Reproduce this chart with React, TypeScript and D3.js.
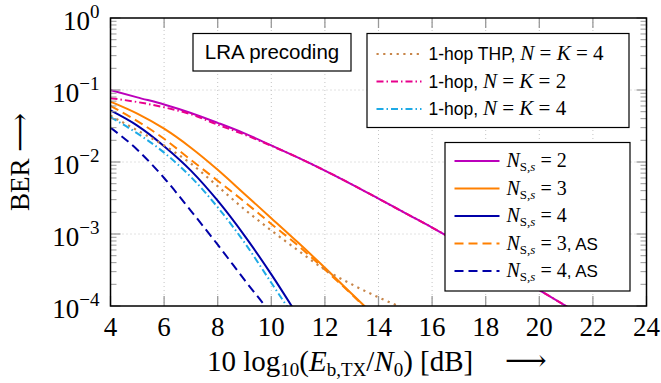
import * as d3 from "d3";
import React from "react";

const W = 661;
const H = 383;
const margin = { top: 18, right: 14.5, bottom: 77, left: 110.5 };
const width = W - margin.left - margin.right;
const height = H - margin.top - margin.bottom;

// Eb/N0 grids [dB]
const snrLong = [4, 5, 6, 7, 8, 9, 10, 11, 12, 13, 14, 15, 16, 17, 18, 19, 20, 21, 22];
const snrMid = [4, 5, 6, 7, 8, 9, 10, 11, 12, 13, 14, 15];
const snrShort = [4, 5, 6, 7, 8, 9, 10, 11];
const snrShort2 = [4, 5, 6, 7, 8, 9, 10, 11, 12, 13, 14];

// BER
const berNs2 = [1.0e-1, 7.9e-2, 6.3e-2, 4.8e-2, 3.5e-2, 2.5e-2, 1.7e-2, 1.15e-2, 7.6e-3, 4.9e-3, 3.1e-3, 1.95e-3, 1.23e-3, 7.6e-4, 4.6e-4, 2.75e-4, 1.66e-4, 1.0e-4, 6.0e-5];
const berNs3 = [6.9e-2, 4.7e-2, 2.9e-2, 1.58e-2, 7.8e-3, 3.6e-3, 1.66e-3, 7.6e-4, 3.4e-4, 1.48e-4, 6.5e-5];
const berNs4 = [5.2e-2, 3.2e-2, 1.66e-2, 7.6e-3, 2.9e-3, 9.5e-4, 2.75e-4, 7.2e-5];
const berNs3AS = [6.0e-2, 3.7e-2, 2.1e-2, 1.07e-2, 5.5e-3, 2.8e-3, 1.38e-3, 6.9e-4, 3.2e-4, 1.45e-4, 6.3e-5];
const berNs4AS = [3.0e-2, 1.48e-2, 6.0e-3, 2.1e-3, 7.1e-4, 2.3e-4, 7.6e-5, 2.0e-5];
const berThp = [4.4e-2, 2.75e-2, 1.7e-2, 9.5e-3, 4.6e-3, 2.2e-3, 1.12e-3, 5.9e-4, 3.2e-4, 2.0e-4, 1.32e-4, 9.1e-5];
const berHop2 = [7.7e-2, 6.8e-2, 5.75e-2, 4.6e-2, 3.3e-2, 2.4e-2, 1.68e-2, 1.15e-2, 7.6e-3, 4.9e-3, 3.1e-3, 1.95e-3, 1.23e-3, 7.6e-4, 4.6e-4, 2.75e-4, 1.66e-4, 1.0e-4, 6.0e-5];
const berHop4 = [4.2e-2, 2.5e-2, 1.35e-2, 6.2e-3, 2.35e-3, 7.6e-4, 2.1e-4, 5.8e-5];

const xTicks = [4, 6, 8, 10, 12, 14, 16, 18, 20, 22, 24];
const yTicks = [1, 1e-1, 1e-2, 1e-3, 1e-4];
const yExp = ["0", "\u22121", "\u22122", "\u22123", "\u22124"];

const serif = "'Liberation Serif', 'DejaVu Serif', serif";
const sans = "'Liberation Sans', Arial, sans-serif";

const DASHED = "9 5";
const DASHDOT = "7 3 1.5 3";
const DOTTED = "2.2 4.5";

const curves = [
  { snr: snrLong, ber: berNs2, color: "#bb00bb", dash: null },
  { snr: snrShort2, ber: berNs3, color: "#ff8000", dash: null },
  { snr: snrShort, ber: berNs4, color: "#0000a8", dash: null },
  { snr: snrShort2, ber: berNs3AS, color: "#ff8000", dash: DASHED },
  { snr: snrShort, ber: berNs4AS, color: "#0000a8", dash: DASHED },
  { snr: snrMid, ber: berThp, color: "#c8864a", dash: DOTTED },
  { snr: snrLong, ber: berHop2, color: "#e8008c", dash: DASHDOT },
  { snr: snrShort, ber: berHop4, color: "#1eaae6", dash: DASHDOT },
];

const x = d3.scaleLinear().domain([4, 24]).range([0, width]);
const y = d3.scaleLog().domain([1e-4, 1]).range([height, 0]);

const minorY: number[] = [];
[1e-4, 1e-3, 1e-2, 1e-1].forEach((d) => {
  for (let k = 2; k <= 9; k++) minorY.push(d * k);
});

function Ns({ v, as }: { v: string; as?: boolean }) {
  return (
    <>
      <tspan fontFamily={serif} fontStyle="italic" fontSize={20}>N</tspan>
      <tspan fontFamily={serif} fontSize={13} dy={4}>S,</tspan>
      <tspan fontFamily={serif} fontStyle="italic" fontSize={13}>s</tspan>
      <tspan fontFamily={serif} fontSize={20} dy={-4}>{" = " + v}</tspan>
      {as ? <tspan fontFamily={sans} fontSize={17}>, AS</tspan> : null}
    </>
  );
}

function Hop({ label, v }: { label: string; v: string }) {
  return (
    <>
      <tspan fontFamily={sans} fontSize={17.5}>{label}</tspan>
      <tspan fontFamily={serif} fontStyle="italic" fontSize={21}>N</tspan>
      <tspan fontFamily={serif} fontSize={21}>{" = "}</tspan>
      <tspan fontFamily={serif} fontStyle="italic" fontSize={21}>K</tspan>
      <tspan fontFamily={serif} fontSize={21}>{" = " + v}</tspan>
    </>
  );
}

export default function App() {
  const line = d3
    .line<[number, number]>()
    .x((d) => x(d[0]))
    .y((d) => y(d[1]))
    .curve(d3.curveMonotoneX);

  const legendHop = [
    { color: "#c8864a", dash: DOTTED, label: "1-hop THP, ", v: "4" },
    { color: "#e8008c", dash: DASHDOT, label: "1-hop, ", v: "2" },
    { color: "#1eaae6", dash: DASHDOT, label: "1-hop, ", v: "4" },
  ];
  const legendNs = [
    { color: "#bb00bb", dash: null, v: "2", as: false },
    { color: "#ff8000", dash: null, v: "3", as: false },
    { color: "#0000a8", dash: null, v: "4", as: false },
    { color: "#ff8000", dash: DASHED, v: "3", as: true },
    { color: "#0000a8", dash: DASHED, v: "4", as: true },
  ];

  return (
    <svg width={W} height={H} style={{ position: "absolute", left: 0, top: 0, background: "#fff" }}>
      <defs>
        <clipPath id="plotclip">
          <rect x={0} y={0} width={width} height={height} />
        </clipPath>
      </defs>
      <g transform={`translate(${margin.left},${margin.top})`}>
        {/* grid */}
        {xTicks.slice(1, -1).map((t) => (
          <line key={"gx" + t} x1={x(t)} x2={x(t)} y1={0} y2={height} stroke="#c4c4c4" strokeDasharray="1 3" />
        ))}
        {yTicks.slice(1, -1).map((t) => (
          <line key={"gy" + t} x1={0} x2={width} y1={y(t)} y2={y(t)} stroke="#c4c4c4" strokeDasharray="1 3" />
        ))}

        {/* curves */}
        <g clipPath="url(#plotclip)">
          {curves.map((c, i) => (
            <path
              key={i}
              d={line(c.snr.map((s, j) => [s, c.ber[j]] as [number, number])) || ""}
              fill="none"
              stroke={c.color}
              strokeWidth={c.dash === DOTTED ? 2.2 : 2}
              strokeDasharray={c.dash || undefined}
            />
          ))}
        </g>

        {/* ticks */}
        {xTicks.map((t) => (
          <g key={"tx" + t} stroke="#999" strokeWidth={1.3}>
            <line x1={x(t)} x2={x(t)} y1={height} y2={height - 10} />
            <line x1={x(t)} x2={x(t)} y1={0} y2={10} />
          </g>
        ))}
        {yTicks.map((t) => (
          <g key={"ty" + t} stroke="#999" strokeWidth={1.3}>
            <line x1={0} x2={10} y1={y(t)} y2={y(t)} />
            <line x1={width} x2={width - 10} y1={y(t)} y2={y(t)} />
          </g>
        ))}
        {minorY.map((t) => (
          <g key={"my" + t} stroke="#999" strokeWidth={1}>
            <line x1={0} x2={6} y1={y(t)} y2={y(t)} />
            <line x1={width} x2={width - 6} y1={y(t)} y2={y(t)} />
          </g>
        ))}

        <rect x={0} y={0} width={width} height={height} fill="none" stroke="#000" strokeWidth={1.5} />

        {/* tick labels */}
        {xTicks.map((t) => (
          <text key={"lx" + t} x={x(t)} y={height + 30} textAnchor="middle" fontFamily={serif} fontSize={27}>
            {t}
          </text>
        ))}
        {yTicks.map((t, i) => (
          <text key={"ly" + t} x={-11} y={y(t) + 12} textAnchor="end" fontFamily={serif} fontSize={27}>
            10
            <tspan fontSize={19} dy={-12}>{yExp[i]}</tspan>
          </text>
        ))}

        {/* LRA precoding box */}
        <rect x={82.5} y={15.5} width={158} height={37.5} fill="#fff" stroke="#000" strokeWidth={1.2} />
        <text x={161.5} y={41} textAnchor="middle" fontFamily={sans} fontSize={20.5}>LRA precoding</text>

        {/* 1-hop legend */}
        <rect x={256.5} y={15.5} width={262} height={94} fill="#fff" stroke="#000" strokeWidth={1.2} />
        {legendHop.map((e, i) => (
          <g key={"lh" + i} transform={`translate(0,${36 + i * 27.5})`}>
            <line x1={266} x2={311} y1={0} y2={0} stroke={e.color} strokeWidth={2} strokeDasharray={e.dash} />
            <text x={318} y={6}>
              <Hop label={e.label} v={e.v} />
            </text>
          </g>
        ))}

        {/* N_S,s legend */}
        <rect x={334.5} y={124.5} width={185} height={148.5} fill="#fff" stroke="#000" strokeWidth={1.2} />
        {legendNs.map((e, i) => (
          <g key={"ln" + i} transform={`translate(0,${143 + i * 27.5})`}>
            <line x1={344} x2={389} y1={0} y2={0} stroke={e.color} strokeWidth={2} strokeDasharray={e.dash || undefined} />
            <text x={396} y={6}>
              <Ns v={e.v} as={e.as} />
            </text>
          </g>
        ))}
      </g>

      {/* axis labels */}
      <text x={207} y={371} fontFamily={serif} fontSize={29}>
        {"10 log"}
        <tspan fontSize={19} dy={5}>10</tspan>
        <tspan dy={-5}>(</tspan>
        <tspan fontStyle="italic">E</tspan>
        <tspan fontSize={19} dy={5}>b,TX</tspan>
        <tspan dy={-5}>/</tspan>
        <tspan fontStyle="italic">N</tspan>
        <tspan fontSize={19} dy={5}>0</tspan>
        <tspan dy={-5}>{") [dB]"}</tspan>
      </text>
      <text x={505} y={370} fontFamily={serif} fontSize={29}>{"\u27F6"}</text>
      <text transform="translate(29,162) rotate(-90)" textAnchor="middle" fontFamily={serif} fontSize={27}>
        {"BER  \u27F6"}
      </text>
    </svg>
  );
}
